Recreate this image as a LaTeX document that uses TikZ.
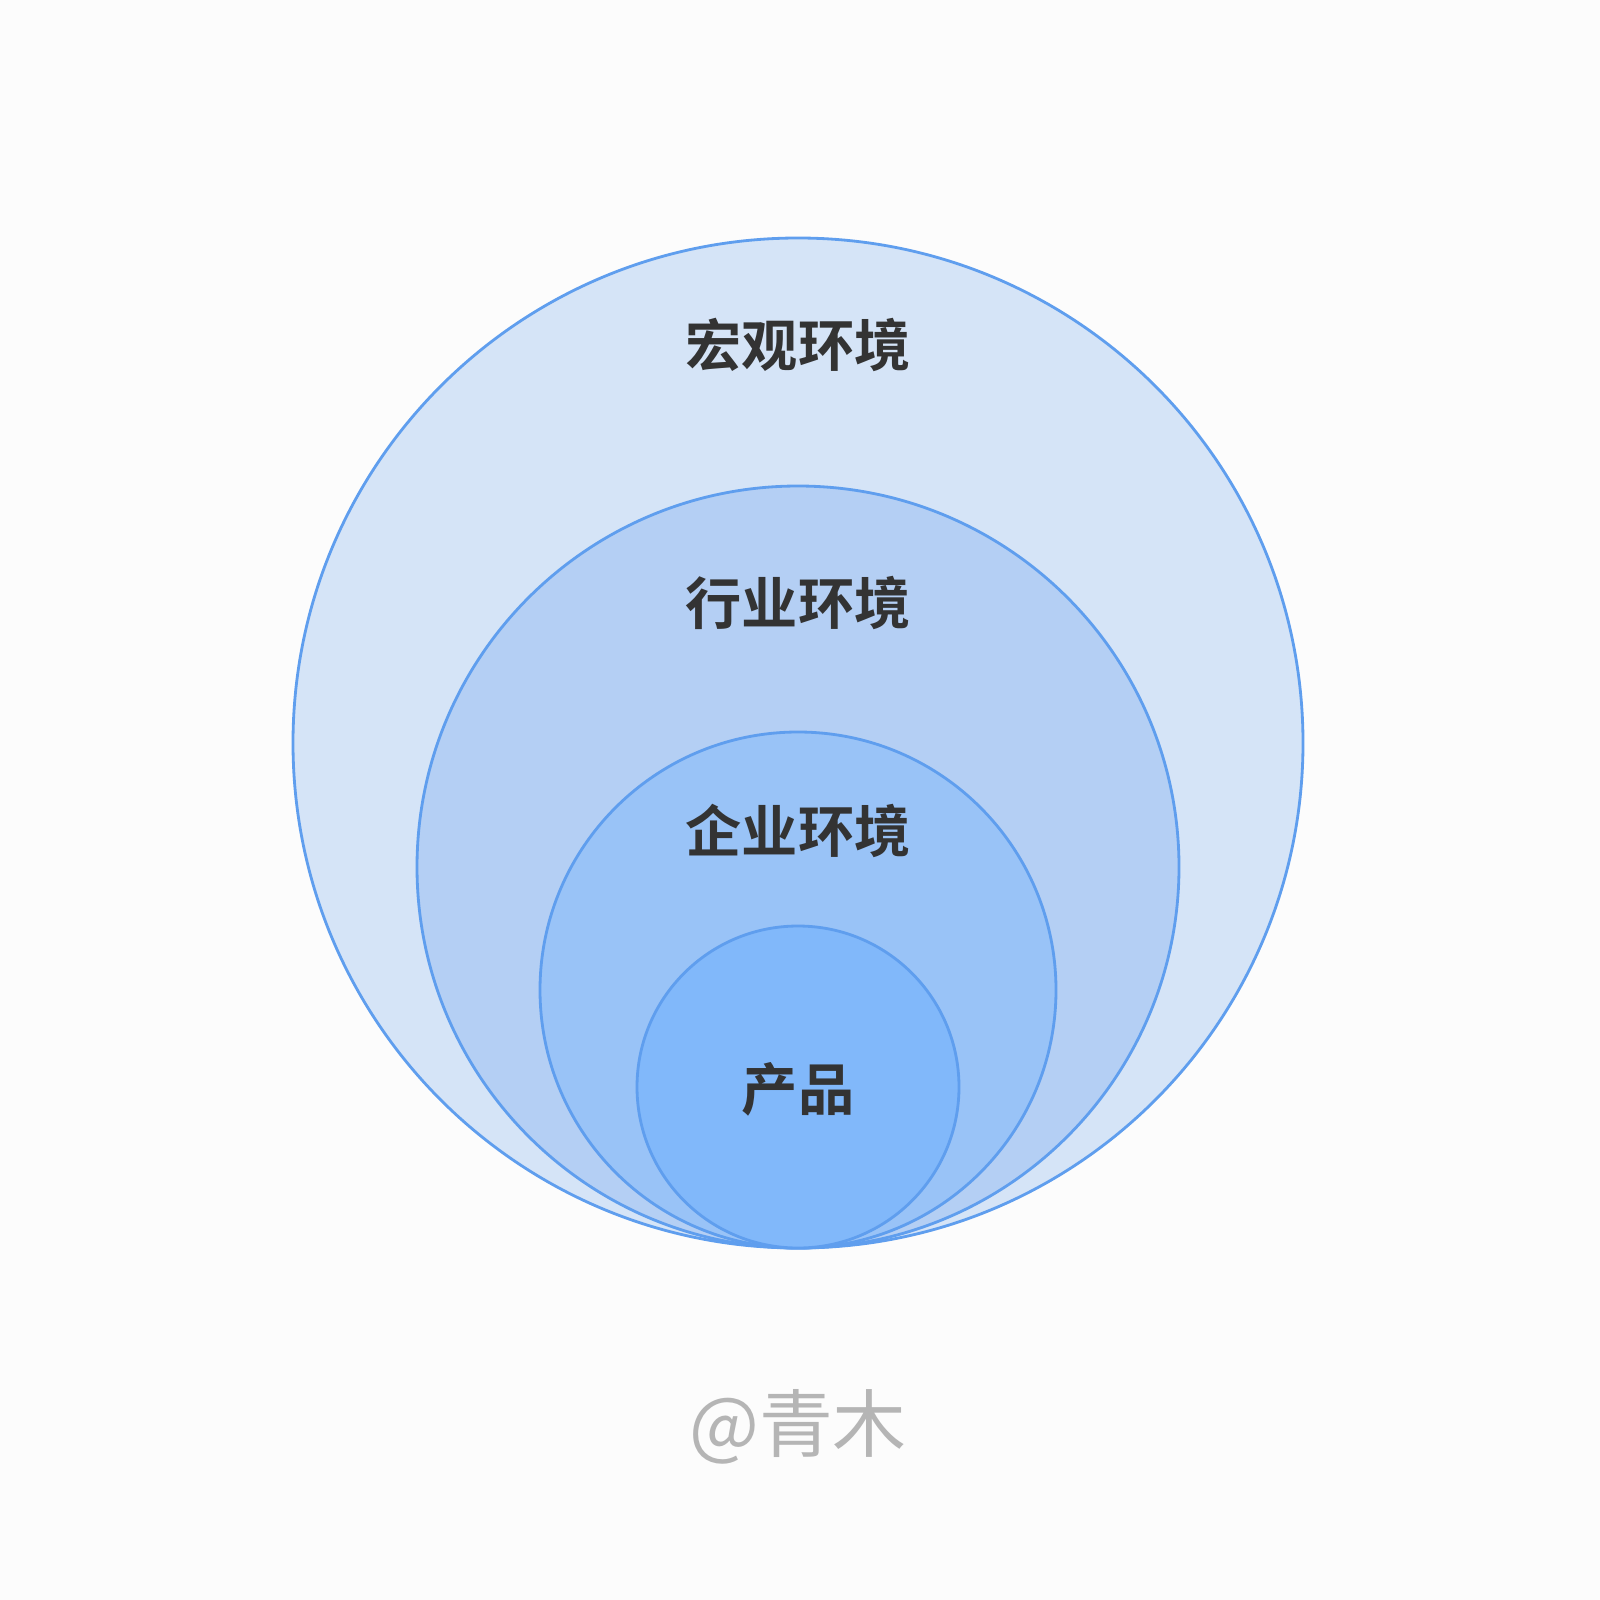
\documentclass[tikz,border=0pt]{standalone}
\usepackage{fontspec}
\newfontfamily\cjk{Noto Sans CJK SC}
\newfontfamily\cjkb{Noto Sans CJK SC Bold}
\definecolor{bg}{HTML}{FCFCFC}
\definecolor{c1}{HTML}{D5E4F7}
\definecolor{c2}{HTML}{B4CFF4}
\definecolor{c3}{HTML}{99C3F7}
\definecolor{c4}{HTML}{81B8FA}
\definecolor{edge}{HTML}{5F9EEE}
\definecolor{txt}{HTML}{333333}
\definecolor{wm}{HTML}{B5B5B5}
\tikzset{ring/.style={draw=edge,line width=0.8pt},
 lbl/.style={font=\cjkb\fontsize{16}{16}\selectfont,text=txt}}
\begin{document}
\begin{tikzpicture}[x=0.01cm,y=-0.01cm]
\fill[bg] (0,0) rectangle (1600,1600);
\useasboundingbox (0,0) rectangle (1600,1600);
\filldraw[ring,fill=c1] (798,743) circle[radius=505];
\filldraw[ring,fill=c2] (798,867) circle[radius=381];
\filldraw[ring,fill=c3] (798,990) circle[radius=258];
\filldraw[ring,fill=c4] (798,1087) circle[radius=161];
\node[lbl] (a) at (798,345) {宏观环境};
\node[lbl] (b) at (798,603) {行业环境};
\node[lbl] (c) at (798,831) {企业环境};
\node[lbl] (d) at (798,1089) {产品};
\node[font=\cjk\fontsize{21}{21}\selectfont,text=wm] (w) at (798,1427) {@青木};
\end{tikzpicture}
\end{document}
